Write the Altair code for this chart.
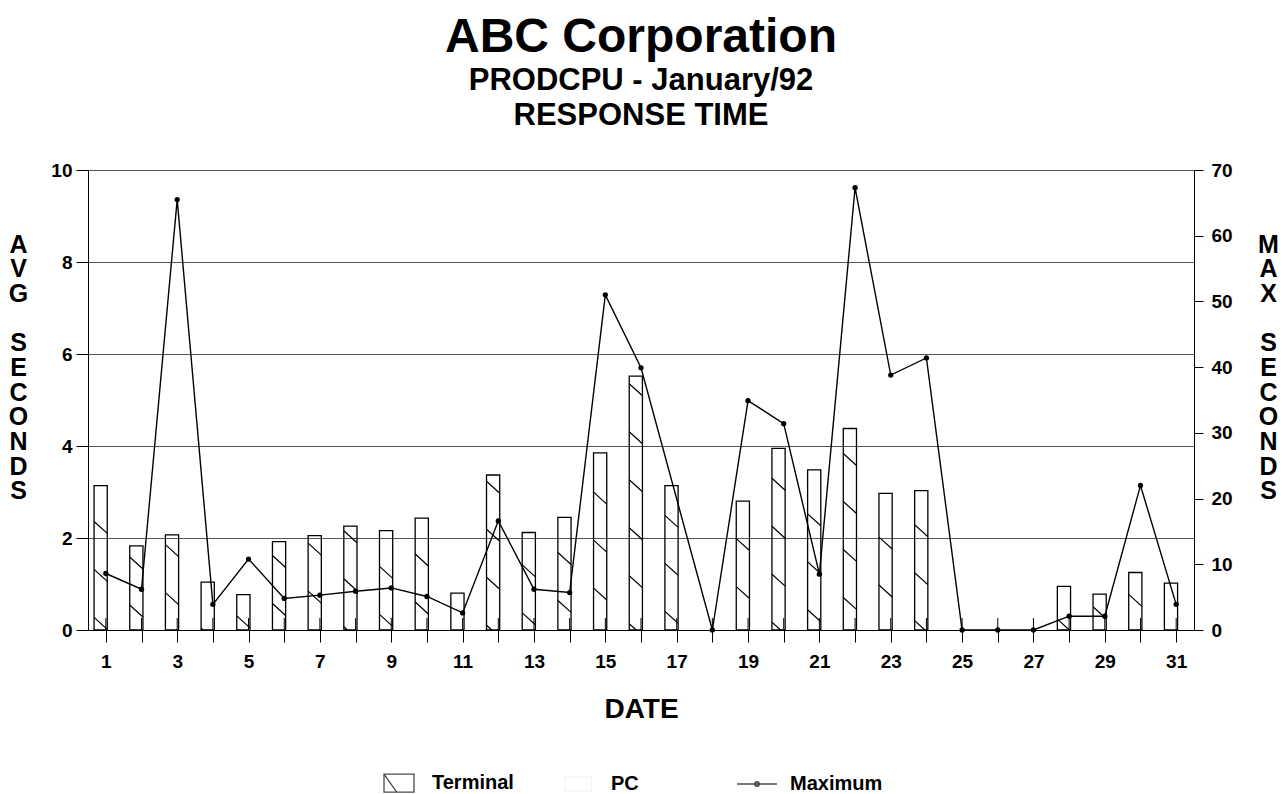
import altair as alt
import pandas as pd

# ---- data ----
dates = list(range(1, 32))
terminal = [3.14, 1.83, 2.07, 1.04, 0.77, 1.92, 2.05, 2.26, 2.16, 2.43, 0.80,
            3.37, 2.12, 2.45, 3.85, 5.52, 3.14, 0.0, 2.80, 3.95, 3.48, 4.38,
            2.97, 3.03, 0.0, 0.0, 0.0, 0.95, 0.78, 1.25, 1.02]
maximum = [8.6, 6.2, 65.5, 3.9, 10.8, 4.8, 5.3, 5.9, 6.4, 5.1, 2.6,
           16.6, 6.2, 5.7, 51.0, 39.9, None, 0.0, 34.9, 31.4, 8.5, 67.3,
           38.8, 41.4, 0.0, 0.0, 0.0, 2.1, 2.1, 22.0, 3.9]
series = ["Terminal", "PC", "Maximum"]
left_ticks = [0, 2, 4, 6, 8, 10]
right_ticks = [0, 10, 20, 30, 40, 50, 60, 70]
ZW = "\u200b"
left_title = ["A", "V", "G", ZW, "S", "E", "C", "O", "N", "D", "S"]
right_title = ["M", "A", "X", ZW, "S", "E", "C", "O", "N", "D", "S"]

FONT = "Liberation Sans"
W, H = 1106, 460

bars_df = pd.DataFrame({"date": dates, "terminal": terminal})
max_df = pd.DataFrame({"date": dates, "maximum": maximum})

# hatch strokes (decoration of the Terminal bars)
BL, BR = 0.33, 0.04
period, drop = 1.043, 0.26
hatch_rows = []
for d, t in zip(dates, terminal):
    if t <= 0:
        continue
    y = (2.36 + 0.269 * (d - 1)) % period
    while y <= t:
        if y > 0.02:
            y_end = y - drop
            frac = 1.0
            if y_end < 0:
                frac = y / drop
                y_end = 0.0
            hatch_rows.append({"x1": d - BL, "x2": d - BL + frac * (BL + BR),
                               "y1": y, "y2": y_end})
        y += period
hatch_df = pd.DataFrame(hatch_rows)

xscale = alt.Scale(domain=[0.5, 31.5], nice=False, zero=False)
yl = alt.Scale(domain=[0, 10], nice=False)
yr = alt.Scale(domain=[0, 70], nice=False)

x_axis = alt.Axis(values=dates, labelExpr="datum.value % 2 == 1 ? datum.label : ''",
                  tickSize=12, tickColor="black", domainColor="black",
                  labelFont=FONT, labelFontSize=19, labelFontWeight="bold",
                  labelColor="black", labelPadding=10, grid=False,
                  title="DATE", titleFont=FONT, titleFontSize=28,
                  titleFontWeight="bold", titleColor="black", titlePadding=24)

left_axis = alt.Axis(values=left_ticks, grid=True, gridColor="#555", gridWidth=1,
                     tickSize=12, tickColor="black", domainColor="black",
                     labelFont=FONT, labelFontSize=19, labelFontWeight="bold",
                     labelColor="black", labelPadding=4,
                     title=left_title, titleAngle=0, titleX=-70, titleY=62,
                     titleBaseline="top", titleAlign="center",
                     titleFont=FONT, titleFontSize=25, titleFontWeight="bold",
                     titleColor="black", titleLineHeight=24.7)

right_axis = alt.Axis(orient="right", values=right_ticks, grid=False,
                      tickSize=9, tickColor="black", domainColor="black",
                      labelFont=FONT, labelFontSize=19, labelFontWeight="bold",
                      labelColor="black", labelPadding=8,
                      title=right_title, titleAngle=0, titleX=74, titleY=62,
                      titleBaseline="top", titleAlign="center",
                      titleFont=FONT, titleFontSize=25, titleFontWeight="bold",
                      titleColor="black", titleLineHeight=24.7)


def X(field):
    return alt.X(field, scale=xscale, axis=x_axis)


bars = alt.Chart(bars_df).transform_filter("datum.terminal > 0").transform_calculate(
    xl=f"datum.date - {BL}", xr=f"datum.date + {BR}"
).mark_rect(fill="white", fillOpacity=0, stroke="black", strokeWidth=1.3).encode(
    x=X("xl:Q"),
    x2="xr:Q",
    y=alt.Y("terminal:Q", scale=yl, axis=left_axis),
    y2=alt.datum(0),
)

hatch = alt.Chart(hatch_df).mark_rule(color="black", strokeWidth=1.2).encode(
    x=X("x1:Q"),
    x2="x2:Q",
    y=alt.Y("y1:Q", scale=yl, axis=None),
    y2="y2:Q",
)

inticks = alt.Chart(bars_df).mark_rule(color="black", strokeWidth=1).encode(
    x=X("date:Q"),
    y=alt.Y("lo:Q", scale=yl, axis=None),
    y2="hi:Q",
).transform_calculate(lo="0", hi="0.26")

line = alt.Chart(max_df).transform_filter("isValid(datum.maximum)").mark_line(
    color="black", strokeWidth=1.4).encode(
    x=X("date:Q"),
    y=alt.Y("maximum:Q", scale=yr, axis=right_axis),
)
points = alt.Chart(max_df).transform_filter("isValid(datum.maximum)").mark_circle(
    color="black", size=28, opacity=1).encode(
    x=X("date:Q"),
    y=alt.Y("maximum:Q", scale=yr, axis=None),
)

shape_paths = [
    "M-1,-0.6H1V0.6H-1Z M-1,-0.6L-0.15,0.6",
    "M-0.9,-0.45H0.9V0.45H-0.9Z",
    "M-1.33,0H1.33 M-0.16,0A0.16,0.16 0 1,0 0.16,0A0.16,0.16 0 1,0 -0.16,0Z",
]
legend_df = pd.DataFrame({"series": series})
leg = alt.Legend(title=None, orient="none", legendX=295, legendY=597,
                 direction="horizontal", gridAlign="all", columnPadding=30,
                 symbolSize=900, symbolStrokeWidth=1.3, labelOffset=17,
                 labelFont=FONT, labelFontSize=20, labelFontWeight="bold",
                 labelColor="black", padding=0)
legend_layer = alt.Chart(legend_df).transform_filter("false").mark_point(
    filled=False).encode(
    shape=alt.Shape("series:N", scale=alt.Scale(domain=series, range=shape_paths), legend=leg),
    stroke=alt.Stroke("series:N", scale=alt.Scale(domain=series, range=["black", "#f0f0f0", "black"]), legend=leg),
    fill=alt.Fill("series:N", scale=alt.Scale(domain=series, range=["transparent", "transparent", "black"]), legend=leg),
)

chart = alt.layer(bars, hatch, inticks, line, points, legend_layer).resolve_scale(
    y="independent"
).properties(
    width=W, height=H,
    autosize=alt.AutoSizeParams(type="none"),
    padding={"left": 80, "top": 162, "right": 86, "bottom": 168},
    title=alt.TitleParams(
        "ABC Corporation",
        subtitle=["PRODCPU - January/92", "RESPONSE TIME"],
        font=FONT, fontSize=48, fontWeight="bold", color="black",
        subtitleFont=FONT, subtitleFontSize=31, subtitleFontWeight="bold",
        subtitleColor="black", subtitleLineHeight=35, subtitlePadding=4,
        anchor="middle", offset=30,
    ),
).configure_view(stroke=None).configure(background="white")

chart.save("out.html", embed_options={"renderer": "svg", "actions": False})
